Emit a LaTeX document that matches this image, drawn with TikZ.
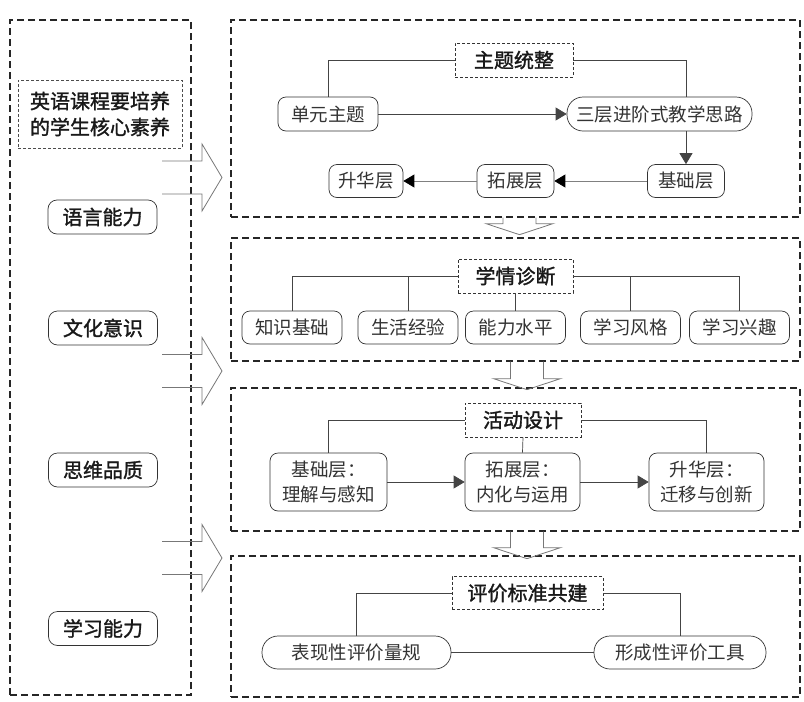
\documentclass[tikz,border=0pt]{standalone}
\usepackage{fontspec}
\newfontfamily\cjk{Noto Sans CJK SC}
\newfontfamily\cjkh[FakeBold=1.5]{Noto Sans CJK SC}
\usetikzlibrary{arrows.meta}
\definecolor{txt}{HTML}{333333}
\definecolor{ln}{HTML}{444444}
\definecolor{lgray}{HTML}{777777}
\tikzset{
  bigbox/.style={draw=black!85, dash pattern=on 7pt off 4pt, line width=1.3pt, inner sep=0pt},
  headbox/.style={draw=black!80, dash pattern=on 3pt off 2pt, line width=0.6pt, inner sep=0pt,
    font=\cjkh\fontsize{20}{24}\selectfont, text=black!90},
  rbox/.style={draw=black!80, rounded corners=8pt, line width=0.7pt, inner sep=0pt,
    font=\cjk\fontsize{18.5}{23}\selectfont, text=txt, align=center},
  pill/.style={rbox, rounded corners=16pt},
  lbox/.style={draw=black!80, rounded corners=9pt, line width=0.7pt, inner sep=0pt,
    minimum width=109pt, minimum height=34pt,
    font=\cjkh\fontsize{20}{24}\selectfont, text=black!90},
  conn/.style={draw=ln, line width=0.7pt},
  arr/.style={conn, -{Triangle[length=11pt,width=13pt]}},
  garr/.style={draw=black!50, line width=0.8pt, -{Triangle[length=11pt,width=13pt,fill=black,color=black]}},
  blockarr/.style={draw=lgray, line width=0.8pt, line join=miter},
}
\begin{document}
\begin{tikzpicture}[x=1pt,y=-1pt]
\useasboundingbox (0,0) rectangle (804,702);

% left column
\node[bigbox, minimum width=181pt, minimum height=675pt] (left) at (100.5,357.5) {};
\node[draw=black!70, dash pattern=on 3pt off 2pt, line width=0.6pt, minimum width=164pt, minimum height=68pt,
  inner sep=0pt, align=center, font=\cjkh\fontsize{20}{26}\selectfont, text=black!90]
  (core) at (100,114) {英语课程要培养\\的学生核心素养};
\node[lbox] (l1) at (102.5,217) {语言能力};
\node[lbox] (l2) at (103,328) {文化意识};
\node[lbox] (l3) at (103,470) {思维品质};
\node[lbox] (l4) at (103,628.5) {学习能力};

% block arrows left
\foreach \yc/\nm in {177.5/ba1, 371/ba2, 558/ba3}{
  \coordinate (\nm) at (222,\yc);
  \draw[blockarr] ([shift={(-60,-16.5)}]\nm) -- ([shift={(-20,-16.5)}]\nm) -- ([shift={(-20,-33.5)}]\nm)
    -- (\nm) -- ([shift={(-20,33.5)}]\nm) -- ([shift={(-20,16.5)}]\nm) -- ([shift={(-60,16.5)}]\nm);
}

% right boxes
\node[bigbox, minimum width=569pt, minimum height=197pt] (b1) at (515.5,118.5) {};
\node[bigbox, minimum width=569pt, minimum height=123pt] (b2) at (515.5,299.5) {};
\node[bigbox, minimum width=569pt, minimum height=143pt] (b3) at (515.5,459.5) {};
\node[bigbox, minimum width=569pt, minimum height=141pt] (b4) at (515.5,626.5) {};

% small down arrows
\foreach \from/\len/\cx in {b1/6/519.5, b2/17/527, b3/16/527}{
  \coordinate (t) at (\cx, 0);
  \draw[blockarr] (\from.south -| t) ++(-16.5,0) -- ++(0,\len) -- ++(-17,0) -- ++(33.5,11) -- ++(33.5,-11) -- ++(-17,0) -- ++(0,-\len);
}

% box 1
\node[headbox, minimum width=118pt, minimum height=34pt] (zt) at (514,60) {主题统整};
\node[rbox, minimum width=100pt, minimum height=34pt] (dy) at (328,114) {单元主题};
\node[pill, minimum width=185pt, minimum height=34pt] (sc) at (659.5,114) {三层进阶式教学思路};
\node[rbox, minimum width=77pt, minimum height=33pt] (jc) at (686,181) {基础层};
\node[rbox, minimum width=77pt, minimum height=33pt] (tz) at (515.5,181) {拓展层};
\node[rbox, minimum width=74pt, minimum height=33pt] (sh) at (366,181) {升华层};
\draw[conn] (zt.west) -| (dy.north);
\draw[conn] (zt.east) -| (sc.north -| jc.north);
\draw[arr] (dy.east) -- (sc.west);
\draw[arr] (sc.south -| jc.north) -- (jc.north);
\draw[garr] (jc.west) -- (tz.east);
\draw[garr] (tz.west) -- (sh.east);

% box 2
\node[headbox, minimum width=115pt, minimum height=34pt] (xq) at (515.5,276) {学情诊断};
\foreach \nm/\cx/\t in {c1/292/知识基础, c2/408/生活经验, c3/515.5/能力水平, c4/630.5/学习风格, c5/739.5/学习兴趣}{
  \node[rbox, minimum width=100pt, minimum height=33pt] (\nm) at (\cx,327.5) {\t};
}
\draw[conn] (xq.west) -| (c1.north);
\draw[conn] (xq.west) -| (c2.north);
\draw[conn] (xq.south) -- (c3.north);
\draw[conn] (xq.east) -| (c4.north);
\draw[conn] (xq.east) -| (c5.north);

% box 3
\node[headbox, minimum width=116pt, minimum height=34pt] (hd) at (523,420) {活动设计};
\node[rbox, minimum width=117pt, minimum height=58pt, font=\cjk\fontsize{18.5}{25}\selectfont] (a1) at (328.5,482) {基础层：\\理解与感知};
\node[rbox, minimum width=115pt, minimum height=58pt, font=\cjk\fontsize{18.5}{25}\selectfont] (a2) at (522.5,482) {拓展层：\\内化与运用};
\node[rbox, minimum width=115pt, minimum height=58pt, font=\cjk\fontsize{18.5}{25}\selectfont] (a3) at (706.5,482) {升华层：\\迁移与创新};
\draw[conn] (hd.west) -| (a1.north);
\draw[conn] (hd.south) -- (a2.north);
\draw[conn] (hd.east) -| (a3.north);
\draw[arr] (a1.east) -- (a2.west);
\draw[arr] (a2.east) -- (a3.west);

% box 4
\node[headbox, minimum width=151pt, minimum height=33pt] (pj) at (527.5,593) {评价标准共建};
\node[pill, minimum width=189pt, minimum height=33pt] (e1) at (356.5,652.5) {表现性评价量规};
\node[pill, minimum width=172pt, minimum height=33pt] (e2) at (680,652.5) {形成性评价工具};
\draw[conn] (pj.west) -| (e1.north);
\draw[conn] (pj.east) -| (e2.north);
\draw[conn] (e1.east) -- (e2.west);
\end{tikzpicture}
\end{document}
